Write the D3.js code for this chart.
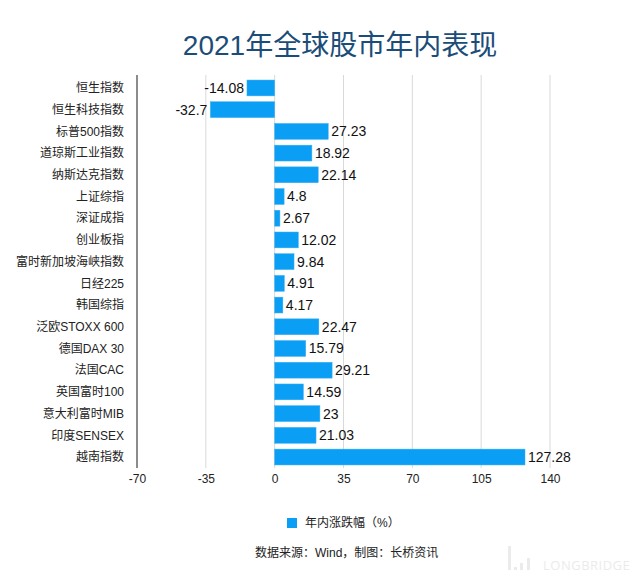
<!DOCTYPE html>
<html><head><meta charset="utf-8">
<script src="https://cdn.jsdelivr.net/npm/d3@7"></script>
<style>body{margin:0;background:#fff;}svg{display:block;}</style>
</head><body>
<script>
const categories = ["恒生指数","恒生科技指数","标普500指数","道琼斯工业指数","纳斯达克指数","上证综指","深证成指","创业板指","富时新加坡海峡指数","日经225","韩国综指","泛欧STOXX 600","德国DAX 30","法国CAC","英国富时100","意大利富时MIB","印度SENSEX","越南指数"];
const values = [-14.08,-32.7,27.23,18.92,22.14,4.8,2.67,12.02,9.84,4.91,4.17,22.47,15.79,29.21,14.59,23,21.03,127.28];
const valueLabels = ["-14.08","-32.7","27.23","18.92","22.14","4.8","2.67","12.02","9.84","4.91","4.17","22.47","15.79","29.21","14.59","23","21.03","127.28"];
const xTicks = [-70,-35,0,35,70,105,140];
const seriesName = "年内涨跌幅（%）";
const titleText = "2021年全球股市年内表现";
const sourceText = "数据来源：Wind，制图：长桥资讯";

const W = 640, H = 581;
const font = "'Liberation Sans', 'Noto Sans CJK SC', sans-serif";
const svg = d3.select("body").append("svg").attr("width", W).attr("height", H);

const x = d3.scaleLinear().domain([-70,140]).range([137,550]);
const y = d3.scaleBand().domain(categories).range([77,468]).paddingInner(0.27).paddingOuter(0.14);
const barColor = "#0a9ff5";

svg.append("text").attr("x", 340).attr("y", 55).attr("text-anchor","middle")
  .attr("font-family", font).attr("font-size", 28).attr("fill","#1b4d78").text(titleText);

// grid
svg.append("g").selectAll("line").data(xTicks.filter(d=>d!==-70)).join("line")
  .attr("x1", d=>x(d)).attr("x2", d=>x(d)).attr("y1", 75).attr("y2", 468)
  .attr("stroke","#d9d9d9").attr("stroke-width",1);

// axis line
svg.append("line").attr("x1", x(-70)).attr("x2", x(-70)).attr("y1", 75).attr("y2", 468)
  .attr("stroke","#666").attr("stroke-width",1.5);

// tick labels
const xAxis = d3.axisBottom(x).tickValues(xTicks).tickSize(0).tickPadding(0).tickFormat(d=>String(d));
const ax = svg.append("g").attr("transform","translate(0,474)").call(xAxis);
ax.select(".domain").remove();
ax.selectAll("text").attr("font-family", font).attr("font-size", 12).attr("fill","#222").attr("dy","0.71em");

// bars
svg.append("g").selectAll("rect").data(values).join("rect")
  .attr("x", d=>x(Math.min(0,d))).attr("width", d=>Math.abs(x(d)-x(0)))
  .attr("y", (d,i)=>y(categories[i])).attr("height", y.bandwidth())
  .attr("fill", barColor).attr("stroke","#3aaef0").attr("stroke-width",0.5);

// value labels
svg.append("g").selectAll("text").data(values).join("text")
  .attr("x", d=> d<0 ? x(d)-3 : x(d)+3)
  .attr("y", (d,i)=>y(categories[i]) + y.bandwidth()/2)
  .attr("dy","0.35em").attr("text-anchor", d=> d<0 ? "end":"start")
  .attr("font-family", font).attr("font-size", 14).attr("fill","#111")
  .text((d,i)=>valueLabels[i]);

// category labels
svg.append("g").selectAll("text").data(categories).join("text")
  .attr("x", 124).attr("y", d=>y(d)+y.bandwidth()/2).attr("dy","0.35em")
  .attr("text-anchor","end").attr("font-family", font).attr("font-size", 12).attr("fill","#222")
  .text(d=>d);

// legend
svg.append("rect").attr("x",287).attr("y",518).attr("width",10).attr("height",10).attr("fill",barColor);
svg.append("text").attr("x",305).attr("y",523).attr("dy","0.35em").attr("font-family",font)
  .attr("font-size",12).attr("fill","#222").text(seriesName);

// source
svg.append("text").attr("x",255).attr("y",553).attr("dy","0.35em").attr("font-family",font)
  .attr("font-size",12).attr("fill","#222").text(sourceText);

// watermark
const wm = svg.append("g").attr("fill","#ebebeb");
[[508,546,3,24],[514,567,3,3],[520,563,3,7],[527,558,3,12]].forEach(r=>wm.append("rect").attr("x",r[0]).attr("y",r[1]).attr("width",r[2]).attr("height",r[3]));
wm.append("text").attr("x",543).attr("y",570).attr("font-family","'Open Sans', sans-serif").attr("font-size",13).attr("letter-spacing",0.5).text("LONGBRIDGE");
</script>
</body></html>
